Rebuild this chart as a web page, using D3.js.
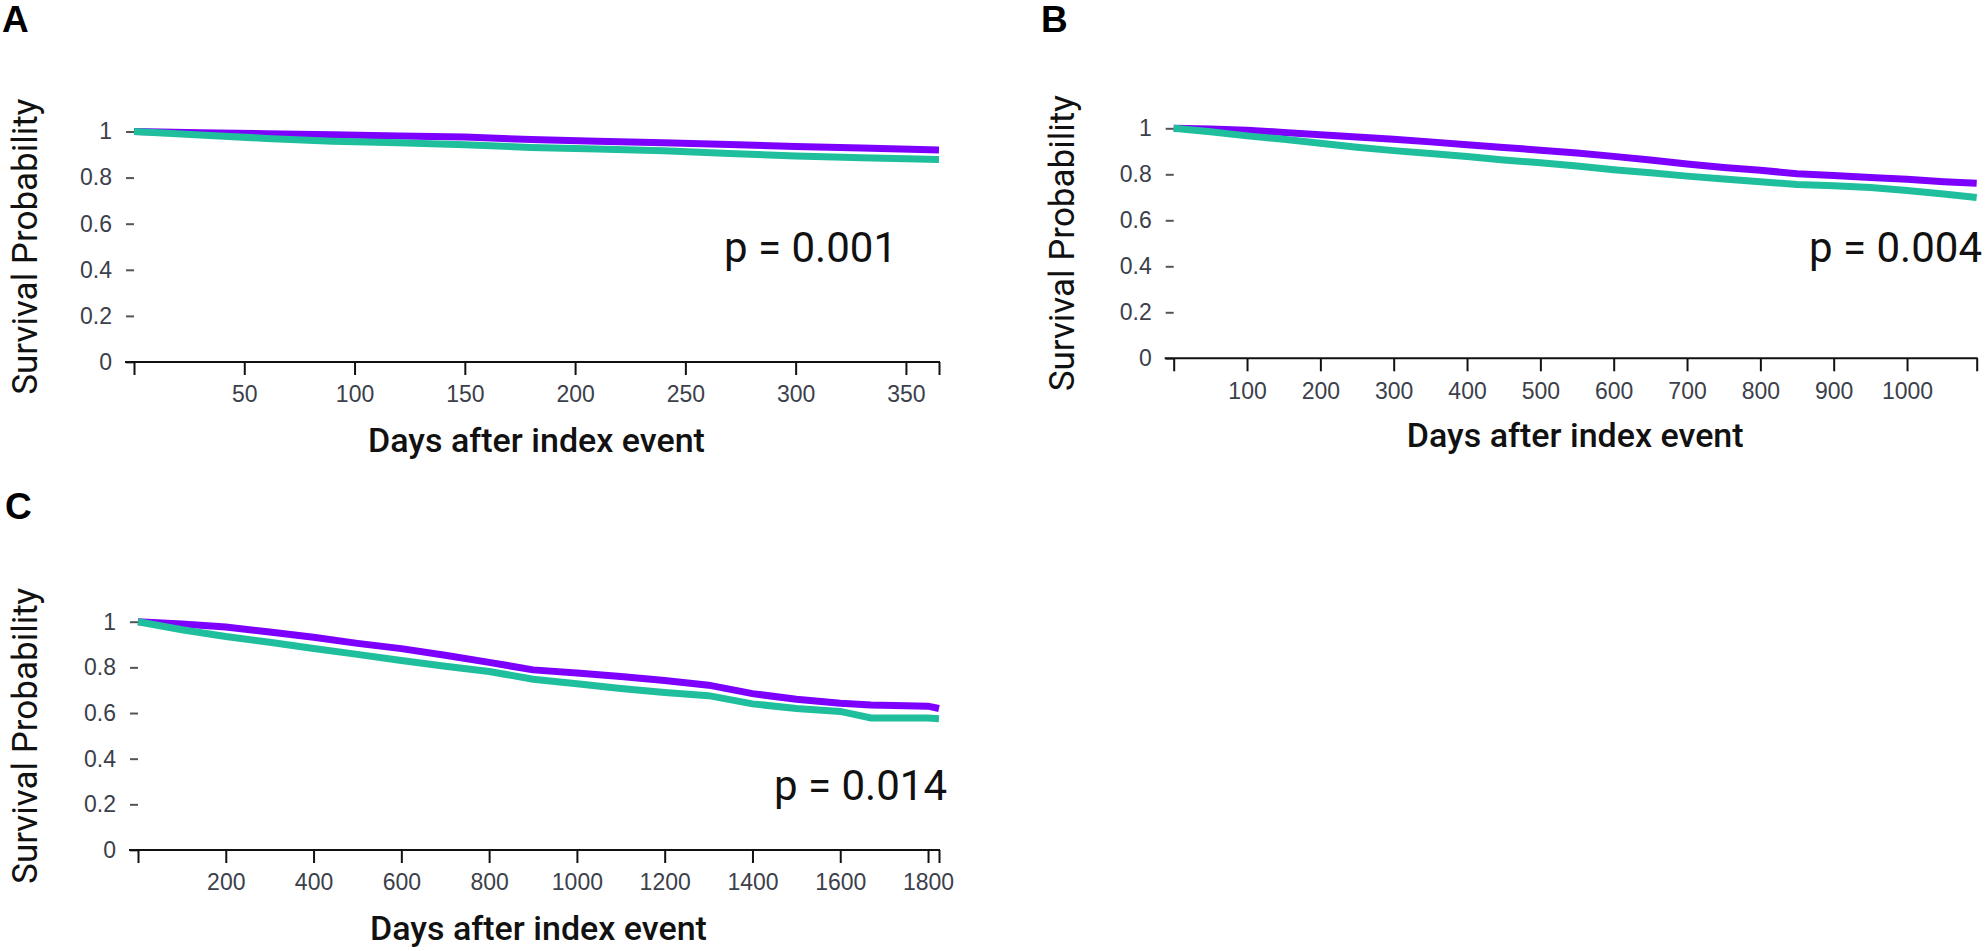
<!DOCTYPE html>
<html>
<head>
<meta charset="utf-8">
<script src="https://cdn.jsdelivr.net/npm/d3@7"></script>
<style>
  body { margin: 0; background: #fff; }
  svg text { font-family: Roboto, "Noto Sans", sans-serif; }
  .tick text { font-family: "Liberation Sans", Arial, sans-serif; fill: #3b404a; }
</style>
</head>
<body>
<div id="chart"></div>
<script>
const svgWidth = 1985;
const svgHeight = 951;

// Panel A: 1 year follow-up
const daysA = [0, 30, 60, 90, 120, 150, 180, 210, 240, 270, 300, 330, 365];
const purpleA = [1, 0.995, 0.99, 0.986, 0.981, 0.976, 0.965, 0.958, 0.951, 0.944, 0.935, 0.928, 0.92];
const tealA = [1, 0.985, 0.97, 0.958, 0.951, 0.942, 0.931, 0.924, 0.916, 0.905, 0.894, 0.886, 0.879];
const xTicksA = [0, 50, 100, 150, 200, 250, 300, 350, 365];

// Panel B: 3 year follow-up
const daysB = [0, 50, 100, 150, 200, 250, 300, 350, 400, 450, 500, 550, 600, 650, 700, 750, 800, 850, 900, 950, 1000, 1050, 1095];
const purpleB = [1, 0.997, 0.992, 0.982, 0.972, 0.962, 0.952, 0.941, 0.928, 0.917, 0.905, 0.893, 0.878, 0.862, 0.845, 0.83, 0.818, 0.802, 0.795, 0.786, 0.778, 0.768, 0.761];
const tealB = [1, 0.985, 0.967, 0.952, 0.935, 0.918, 0.903, 0.89, 0.877, 0.862, 0.85, 0.836, 0.82, 0.807, 0.792, 0.78, 0.768, 0.756, 0.75, 0.743, 0.73, 0.714, 0.699];
const xTicksB = [0, 100, 200, 300, 400, 500, 600, 700, 800, 900, 1000, 1095];

// Panel C: 5 year follow-up
const daysC = [0, 100, 200, 300, 400, 500, 600, 700, 800, 900, 1000, 1100, 1200, 1300, 1400, 1500, 1600, 1670, 1800, 1825];
const purpleC = [1, 0.99, 0.977, 0.955, 0.932, 0.905, 0.882, 0.853, 0.822, 0.789, 0.775, 0.76, 0.742, 0.722, 0.685, 0.66, 0.643, 0.635, 0.63, 0.62];
const tealC = [1, 0.965, 0.935, 0.91, 0.883, 0.857, 0.83, 0.805, 0.782, 0.748, 0.728, 0.707, 0.69, 0.676, 0.64, 0.62, 0.607, 0.578, 0.578, 0.575];
const xTicksC = [0, 200, 400, 600, 800, 1000, 1200, 1400, 1600, 1800, 1825];

const yTicks = [0, 0.2, 0.4, 0.6, 0.8, 1];
const purple = "#7d00ff";
const teal = "#1fbf9e";

const svg = d3.select("#chart")
    .append("svg")
    .attr("width", svgWidth)
    .attr("height", svgHeight);

function drawPanel(p) {
    const x = d3.scaleLinear().domain([0, p.maxDay]).range([p.left, p.right]);
    const y = d3.scaleLinear().domain([0, 1]).range([p.bottom, p.top]);
    const g = svg.append("g");

    // panel letter
    g.append("text")
        .attr("x", p.letterX)
        .attr("y", p.letterY)
        .style("font-family", "'Liberation Sans', Arial, sans-serif")
        .style("font-weight", "bold")
        .style("font-size", "37px")
        .text(p.letter);

    // y axis: only small dashes, no line
    const yAxis = g.append("g")
        .attr("transform", `translate(${p.left}, 0)`)
        .call(d3.axisLeft(y)
            .tickValues(yTicks)
            .tickFormat(d => d === 0 || d === 1 ? String(d) : d3.format(".1f")(d))
            .tickSize(8)
            .tickPadding(14));
    yAxis.select(".domain").remove();
    yAxis.selectAll(".tick line").attr("stroke", "#555").attr("stroke-width", 2);
    yAxis.selectAll(".tick text").style("font-size", "23px");

    // x axis
    const xAxis = g.append("g")
        .attr("transform", `translate(0, ${p.bottom})`)
        .call(d3.axisBottom(x)
            .tickValues(p.xTicks)
            .tickFormat(d => (d === 0 || d === p.maxDay) ? "" : d)
            .tickSize(13)
            .tickSizeOuter(0)
            .tickPadding(11));
    xAxis.select(".domain").remove();
    xAxis.selectAll(".tick line").attr("stroke", "#111").attr("stroke-width", 2);
    xAxis.selectAll(".tick text").style("font-size", "23px");
    g.append("line")
        .attr("x1", p.left - 9)
        .attr("x2", p.right + 1)
        .attr("y1", y(0))
        .attr("y2", y(0))
        .attr("stroke", "#111")
        .attr("stroke-width", 2);

    // survival curves
    const line = d3.line()
        .x(d => x(d[0]))
        .y(d => y(d[1]))
        .curve(d3.curveLinear);
    [[p.purple, purple], [p.teal, teal]].forEach(([vals, col]) => {
        g.append("path")
            .datum(p.days.map((d, i) => [d, vals[i]]))
            .attr("fill", "none")
            .attr("stroke", col)
            .attr("stroke-width", 7)
            .attr("d", line);
    });

    // axis titles
    g.append("text")
        .attr("transform", `translate(${p.yTitleX}, ${(p.top + p.bottom) / 2}) rotate(-90)`)
        .attr("text-anchor", "middle")
        .attr("dy", "0.35em")
        .style("font-size", "35px")
        .style("font-weight", 400)
        .style("fill", "#111")
        .text("Survival Probability");

    g.append("text")
        .attr("x", (p.left + p.right) / 2)
        .attr("y", p.xTitleY)
        .attr("text-anchor", "middle")
        .style("font-size", "34px")
        .style("font-weight", 500)
        .style("fill", "#111")
        .text("Days after index event");

    // p value
    g.append("text")
        .attr("x", p.pX)
        .attr("y", p.pY)
        .attr("text-anchor", "end")
        .style("font-size", "42px")
        .style("fill", "#111")
        .text(p.pText);
}

drawPanel({
    letter: "A", letterX: 2, letterY: 32,
    days: daysA, purple: purpleA, teal: tealA, xTicks: xTicksA, maxDay: 365,
    left: 134, right: 939, top: 131.5, bottom: 362,
    yTitleX: 25, xTitleY: 452, pX: 897, pY: 262, pText: "p = 0.001"
});

drawPanel({
    letter: "B", letterX: 1041, letterY: 32,
    days: daysB, purple: purpleB, teal: tealB, xTicks: xTicksB, maxDay: 1095,
    left: 1173.7, right: 1976.7, top: 128.3, bottom: 358.3,
    yTitleX: 1062, xTitleY: 447, pX: 1982, pY: 262, pText: "p = 0.004"
});

drawPanel({
    letter: "C", letterX: 5, letterY: 519,
    days: daysC, purple: purpleC, teal: tealC, xTicks: xTicksC, maxDay: 1825,
    left: 138, right: 939, top: 621.7, bottom: 850,
    yTitleX: 25, xTitleY: 940, pX: 947, pY: 800, pText: "p = 0.014"
});
</script>
</body>
</html>
